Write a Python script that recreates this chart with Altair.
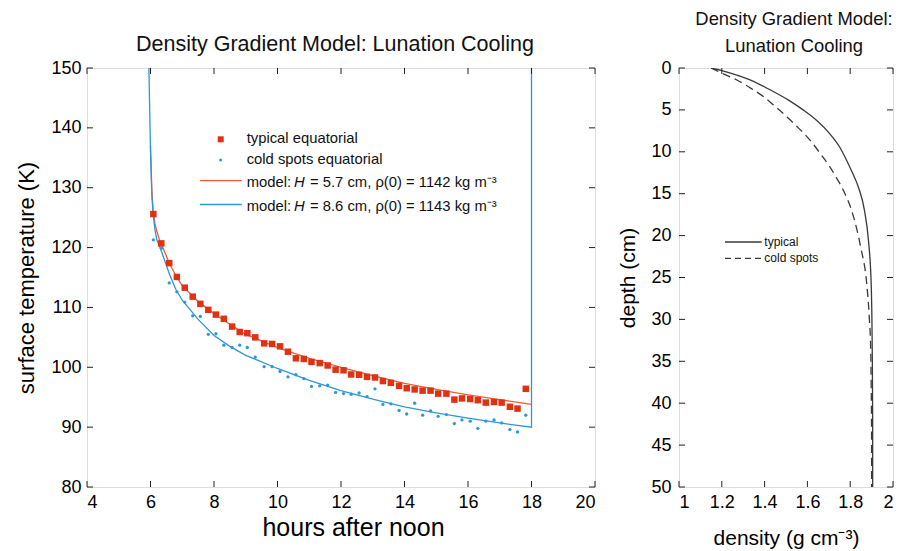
import altair as alt
import pandas as pd

FONT = "Liberation Sans"
RED_PT = "#de3212"
RED_LN = "#ef5a3c"
BLUE = "#2d98d6"
INK = "#222222"

# ---------------- data: left panel ----------------
obs_hours = [6.09, 6.34, 6.59, 6.83, 7.08, 7.33, 7.57, 7.82, 8.06, 8.31, 8.57, 8.81,
             9.05, 9.30, 9.58, 9.83, 10.08, 10.33, 10.58, 10.83, 11.07, 11.33, 11.58, 11.83,
             12.08, 12.32, 12.57, 12.82, 13.07, 13.32, 13.57, 13.83, 14.07, 14.32, 14.57, 14.82,
             15.06, 15.32, 15.57, 15.81, 16.07, 16.31, 16.56, 16.82, 17.06, 17.32, 17.56, 17.82]
typical_T = [125.6, 120.7, 117.4, 115.1, 113.3, 111.8, 110.6, 109.6, 108.8, 108.1, 106.8, 105.9,
             105.7, 105.0, 104.0, 103.9, 103.5, 102.6, 101.5, 101.4, 100.9, 100.7, 100.3, 99.6,
             99.5, 98.8, 98.75, 98.4, 98.3, 97.7, 97.4, 96.9, 96.5, 96.3, 96.1, 96.1,
             95.6, 95.6, 94.6, 94.8, 94.7, 94.5, 94.1, 94.2, 94.1, 93.4, 93.1, 96.4]
cold_T = [121.3, 119.9, 114.1, 112.6, 110.9, 108.6, 108.5, 105.5, 105.6, 103.7, 103.3, 103.7,
          103.3, 101.7, 100.1, 100.1, 99.3, 98.4, 98.75, 98.1, 96.8, 96.9, 97.0, 95.8,
          95.6, 95.5, 95.7, 95.1, 96.4, 93.8, 93.9, 92.8, 92.2, 94.0, 92.0, 92.7,
          91.8, 92.1, 90.6, 91.2, 91.0, 89.8, 91.0, 91.2, 90.7, 89.6, 89.2, 92.0]

red_model_hours = [6.0, 6.04, 6.08, 6.14, 6.2, 6.28, 6.35, 6.6, 6.8, 7.0, 7.5, 8.0, 8.5,
                   9.0, 10.0, 11.0, 12.0, 13.0, 14.0, 15.0, 16.0, 17.0, 18.0]
model_typical_T = [137, 130, 126.2, 124.0, 122.7, 121.3, 120.5, 117.3, 115.3, 113.6, 111.0,
                   109.0, 107.2, 105.5, 103.3, 101.5, 100.0, 98.6, 97.3, 96.3, 95.4, 94.6, 93.8]
blue_model_hours = [5.95, 6.0, 6.04, 6.08, 6.14, 6.2, 6.28, 6.35, 6.6, 6.8, 7.0, 7.5, 8.0, 8.5,
                    9.0, 10.0, 11.0, 12.0, 13.0, 14.0, 15.0, 16.0, 17.0, 18.0, 18.0]
model_cold_T = [150, 136, 129, 125.8, 123.0, 121.3, 120.3, 119.3, 115.5, 113.0, 111.2, 108.0,
                105.3, 103.5, 102.0, 99.8, 97.8, 96.1, 94.7, 93.4, 92.4, 91.5, 90.7, 90.0, 150]

x_ticks_left = [4, 6, 8, 10, 12, 14, 16, 18, 20]
y_ticks_left = [80, 90, 100, 110, 120, 130, 140, 150]

# ---------------- data: right panel ----------------
typ_depth = [0, 0.3, 0.84, 1.5, 2.6, 3.8, 5.0, 6.3, 7.8, 9.4, 11.0, 12.6, 14.2, 16.9, 20.5,
             25.7, 33.7, 42, 50]
typ_density = [1.15, 1.20, 1.27, 1.34, 1.425, 1.51, 1.58, 1.645, 1.703, 1.75, 1.783, 1.812,
               1.838, 1.866, 1.885, 1.898, 1.903, 1.905, 1.905]
cold_depth = [0, 0.5, 1.43, 2.4, 3.4, 4.6, 5.8, 7.2, 8.6, 10.2, 11.8, 13.2, 14.6, 17.7, 21.5,
              25.7, 29.7, 33.7, 37.6, 44, 50]
cold_density = [1.15, 1.19, 1.27, 1.335, 1.394, 1.45, 1.503, 1.56, 1.612, 1.66, 1.705, 1.738,
                1.768, 1.815, 1.85, 1.877, 1.889, 1.896, 1.898, 1.9, 1.9]

x_ticks_right = [1, 1.2, 1.4, 1.6, 1.8, 2]
y_ticks_right = [0, 5, 10, 15, 20, 25, 30, 35, 40, 45, 50]

W1, H1 = 508, 419
W2 = 214
TICK = 6

# ---------------- left panel ----------------
obs_red = pd.DataFrame({"h": obs_hours, "T": typical_T})
obs_blue = pd.DataFrame({"h": obs_hours, "T": cold_T})
mod_red = pd.DataFrame({"h": red_model_hours, "T": model_typical_T,
                        "i": range(len(red_model_hours))})
mod_blue = pd.DataFrame({"h": blue_model_hours, "T": model_cold_T,
                         "i": range(len(blue_model_hours))})
xt_l = pd.DataFrame({"h": x_ticks_left})
yt_l = pd.DataFrame({"T": y_ticks_left})
one = pd.DataFrame({"a": [0]})

XL = alt.X("h:Q", scale=alt.Scale(domain=[4, 20], nice=False, zero=False),
           axis=alt.Axis(values=x_ticks_left, ticks=False, domain=False, grid=False,
                         labelFontSize=18, labelPadding=6, title="hours after noon",
                         titleFontSize=25, titlePadding=4, titleFontWeight="normal",
                         titleX=W1 / 2 + 12))
YL = alt.Y("T:Q", scale=alt.Scale(domain=[80, 150], nice=False, zero=False),
           axis=alt.Axis(values=y_ticks_left, ticks=False, domain=False, grid=False,
                         labelFontSize=18, labelPadding=6, title="surface temperature (K)",
                         titleFontSize=22, titlePadding=12, titleFontWeight="normal"))

l_red_line = alt.Chart(mod_red).mark_line(color=RED_LN, strokeWidth=1.3, clip=True).encode(
    x=XL, y=YL, order="i:Q")
l_blue_line = alt.Chart(mod_blue).mark_line(color=BLUE, strokeWidth=1.3, clip=True).encode(
    x=XL, y=YL, order="i:Q")
l_red_pts = alt.Chart(obs_red).mark_point(shape="square", filled=True, size=42, color=RED_PT,
                                          opacity=1).encode(x=XL, y=YL)
l_blue_pts = alt.Chart(obs_blue).mark_circle(size=11, color=BLUE, opacity=1).encode(x=XL, y=YL)

tick_style = dict(color=INK, strokeWidth=1)
l_tb = alt.Chart(xt_l).mark_rule(**tick_style).encode(x=XL, y=alt.value(H1), y2=alt.value(H1 - TICK))
l_tt = alt.Chart(xt_l).mark_rule(**tick_style).encode(x=XL, y=alt.value(0), y2=alt.value(TICK))
l_tl = alt.Chart(yt_l).mark_rule(**tick_style).encode(y=YL, x=alt.value(0), x2=alt.value(TICK))
l_tr = alt.Chart(yt_l).mark_rule(**tick_style).encode(y=YL, x=alt.value(W1), x2=alt.value(W1 - TICK))

# legend (left)
lx_sym, lx_txt = 133.7, 159.7
leg_sq = alt.Chart(one).mark_point(shape="square", filled=True, size=36, color=RED_PT, opacity=1).encode(
    x=alt.value(lx_sym), y=alt.value(71.3))
leg_dot = alt.Chart(one).mark_circle(size=9, color=BLUE, opacity=1).encode(
    x=alt.value(lx_sym), y=alt.value(92))
leg_rl = alt.Chart(one).mark_rule(color=RED_LN, strokeWidth=1.3).encode(
    x=alt.value(113), x2=alt.value(154.7), y=alt.value(112.7))
leg_bl = alt.Chart(one).mark_rule(color=BLUE, strokeWidth=1.3).encode(
    x=alt.value(113), x2=alt.value(154.7), y=alt.value(136.5))


def txt(s, x, y, size=14.8, style="normal"):
    return alt.Chart(one).mark_text(text=s, align="left", baseline="middle", fontSize=size,
                                    font=FONT, fontStyle=style, color="#111").encode(
        x=alt.value(x), y=alt.value(y))


leg_texts = [
    txt("typical equatorial", lx_txt, 71.3),
    txt("cold spots equatorial", lx_txt, 92.3),
    txt("model:", lx_txt, 115), txt("H", 207, 115, style="italic"),
    txt("= 5.7 cm, \u03c1(0) = 1142 kg m\u207b\u00b3", 223, 115),
    txt("model:", lx_txt, 138.5), txt("H", 207, 138.5, style="italic"),
    txt("= 8.6 cm, \u03c1(0) = 1143 kg m\u207b\u00b3", 223, 138.5),
]

left = alt.layer(l_red_line, l_blue_line, l_red_pts, l_blue_pts, l_tb, l_tt, l_tl, l_tr,
                 leg_sq, leg_dot, leg_rl, leg_bl, *leg_texts).properties(
    width=W1, height=H1,
    title=alt.Title("Density Gradient Model: Lunation Cooling", fontSize=21.5, fontWeight="normal",
                    font=FONT, offset=4, dx=-6, color="#111"))

# ---------------- right panel ----------------
typ_df = pd.DataFrame({"d": typ_density, "z": typ_depth, "i": range(len(typ_depth))})
cold_df = pd.DataFrame({"d": cold_density, "z": cold_depth, "i": range(len(cold_depth))})
xt_r = pd.DataFrame({"d": x_ticks_right})
yt_r = pd.DataFrame({"z": y_ticks_right})

XR = alt.X("d:Q", scale=alt.Scale(domain=[1, 2], nice=False, zero=False),
           axis=alt.Axis(values=x_ticks_right, format="~g", ticks=False, domain=False, grid=False,
                         labelFontSize=18, labelPadding=6, title="density (g cm\u207b\u00b3)",
                         titleFontSize=21, titlePadding=16, titleFontWeight="normal"))
YR = alt.Y("z:Q", scale=alt.Scale(domain=[0, 50], nice=False, zero=False, reverse=True),
           axis=alt.Axis(values=y_ticks_right, ticks=False, domain=False, grid=False,
                         labelFontSize=18, labelPadding=8, title="depth (cm)",
                         titleFontSize=21, titlePadding=12, titleFontWeight="normal"))

r_typ = alt.Chart(typ_df).mark_line(color="#3a3a3a", strokeWidth=1.3, clip=True,
                                    interpolate="monotone").encode(x=XR, y=YR, order="i:Q")
r_cold = alt.Chart(cold_df).mark_line(color="#3a3a3a", strokeWidth=1.3, strokeDash=[8, 5],
                                      clip=True, interpolate="monotone").encode(
    x=XR, y=YR, order="i:Q")
r_tb = alt.Chart(xt_r).mark_rule(**tick_style).encode(x=XR, y=alt.value(H1), y2=alt.value(H1 - TICK))
r_tt = alt.Chart(xt_r).mark_rule(**tick_style).encode(x=XR, y=alt.value(0), y2=alt.value(TICK))
r_tl = alt.Chart(yt_r).mark_rule(**tick_style).encode(y=YR, x=alt.value(0), x2=alt.value(TICK))
r_tr = alt.Chart(yt_r).mark_rule(**tick_style).encode(y=YR, x=alt.value(W2), x2=alt.value(W2 - TICK))

r_leg1 = alt.Chart(one).mark_rule(color="#3a3a3a", strokeWidth=1.3).encode(
    x=alt.value(46), x2=alt.value(82.7), y=alt.value(174))
r_leg2 = alt.Chart(one).mark_rule(color="#3a3a3a", strokeWidth=1.3, strokeDash=[6, 4]).encode(
    x=alt.value(46), x2=alt.value(82.7), y=alt.value(190.3))
r_t1 = txt("typical", 85.3, 174, size=12)
r_t2 = txt("cold spots", 85.3, 190.3, size=12)

right = alt.layer(r_typ, r_cold, r_tb, r_tt, r_tl, r_tr, r_leg1, r_leg2, r_t1, r_t2).properties(
    width=W2, height=H1,
    title=alt.Title(["Density Gradient Model:", "Lunation Cooling"], fontSize=18.4, lineHeight=27,
                    fontWeight="normal", font=FONT, offset=4, dx=8, color="#111"))

chart = alt.hconcat(left, right, spacing=84, bounds="flush").properties(
    padding={"left": 7, "top": 1, "right": 0, "bottom": 0}
).configure_view(stroke=INK, strokeWidth=1.2).configure_axis(
    labelFont=FONT, titleFont=FONT, labelColor="#111", titleColor="#111"
).configure(background="white")

chart.save("out.html", embed_options={"renderer": "svg", "actions": False})
